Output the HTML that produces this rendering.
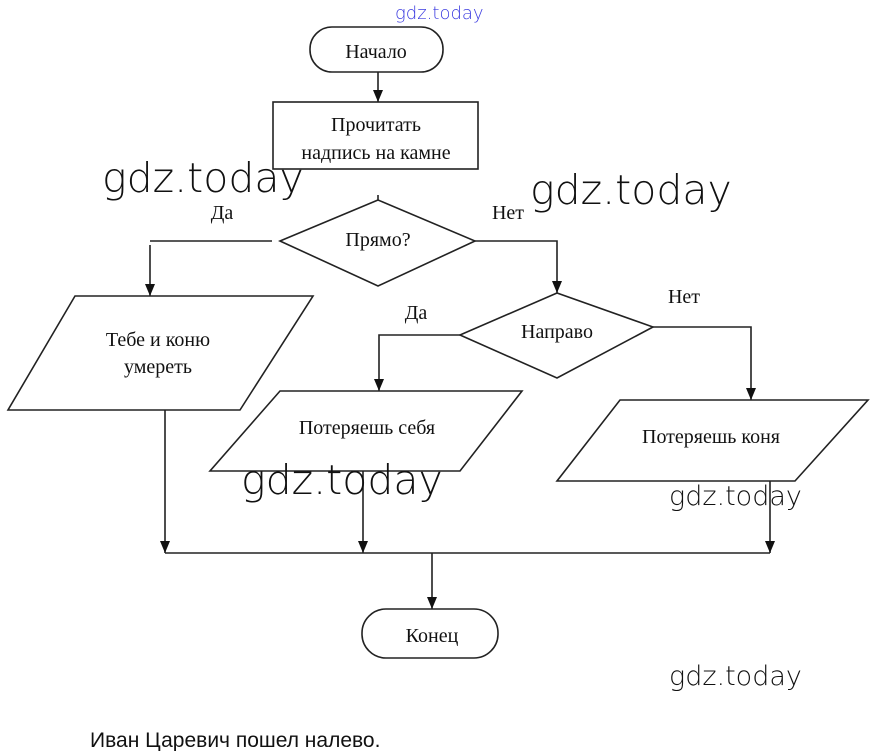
<!DOCTYPE html>
<html><head><meta charset="utf-8"><style>
html,body{margin:0;padding:0;background:#fff;width:871px;height:751px;overflow:hidden}
svg{display:block}
.t{font-family:"Liberation Serif",serif;font-size:20px;fill:#111;text-anchor:middle}
.w{font-family:"DejaVu Sans","Liberation Sans",sans-serif;font-weight:200;fill:#111}
</style></head><body>
<svg width="871" height="751" viewBox="0 0 871 751" xmlns="http://www.w3.org/2000/svg">
<defs><marker id="a" markerWidth="10" markerHeight="12" refX="5" refY="12" orient="0" markerUnits="userSpaceOnUse"><path d="M0,0 L10,0 L5,12 Z" fill="#111"/></marker></defs>
<g stroke="#222" stroke-width="1.6" fill="none">
<rect x="310" y="27" width="133" height="45" rx="22"/>
<line x1="378" y1="72" x2="378" y2="102" marker-end="url(#a)"/>
<rect x="273" y="102" width="205" height="67"/>
<line x1="378" y1="195" x2="378" y2="200"/>
<polygon points="280,241 378,200 475,241 378,286"/>
<polyline points="272,241 150,241"/>
<line x1="150" y1="245" x2="150" y2="296" marker-end="url(#a)"/>
<polyline points="475,241 557,241 557,293" marker-end="url(#a)"/>
<polygon points="460,335 557,293 653,327 557,378"/>
<polyline points="460,335 379,335 379,391" marker-end="url(#a)"/>
<polyline points="653,327 751,327 751,400" marker-end="url(#a)"/>
<polygon points="75,296 313,296 240,410 8,410"/>
<polygon points="280,391 522,391 460,471 210,471"/>
<polygon points="620,400 868,400 795,481 557,481"/>
<line x1="165" y1="410" x2="165" y2="553" marker-end="url(#a)"/>
<line x1="363" y1="471" x2="363" y2="553" marker-end="url(#a)"/>
<line x1="770" y1="481" x2="770" y2="553" marker-end="url(#a)"/>
<line x1="165" y1="553" x2="770" y2="553"/>
<line x1="432" y1="553" x2="432" y2="609" marker-end="url(#a)"/>
<rect x="362" y="609" width="136" height="49" rx="24"/>
</g>
<text class="t" x="376" y="58">Начало</text>
<text class="t" x="376" y="131">Прочитать</text>
<text class="t" x="376" y="159">надпись на камне</text>
<text class="t" x="378" y="246">Прямо?</text>
<text class="t" x="222" y="219">Да</text>
<text class="t" x="508" y="219">Нет</text>
<text class="t" x="557" y="338">Направо</text>
<text class="t" x="416" y="319">Да</text>
<text class="t" x="684" y="303">Нет</text>
<text class="t" x="158" y="346">Тебе и коню</text>
<text class="t" x="158" y="373">умереть</text>
<text class="t" x="367" y="434">Потеряешь себя</text>
<text class="t" x="711" y="443">Потеряешь коня</text>
<text class="t" x="432" y="642">Конец</text>
<text x="90" y="747" font-family="Liberation Sans,sans-serif" font-size="21" fill="#111">Иван Царевич пошел налево.</text>
<text class="w" x="395" y="19" font-size="18" style="fill:#3a3ae0">gdz.today</text>
<text class="w" x="102" y="192" font-size="41">gdz.today</text>
<text class="w" x="530" y="204" font-size="41">gdz.today</text>
<text class="w" x="241" y="494" font-size="41">gdz.today</text>
<text class="w" x="669" y="505" font-size="27">gdz.today</text>
<text class="w" x="669" y="685" font-size="27">gdz.today</text>
</svg>
</body></html>
